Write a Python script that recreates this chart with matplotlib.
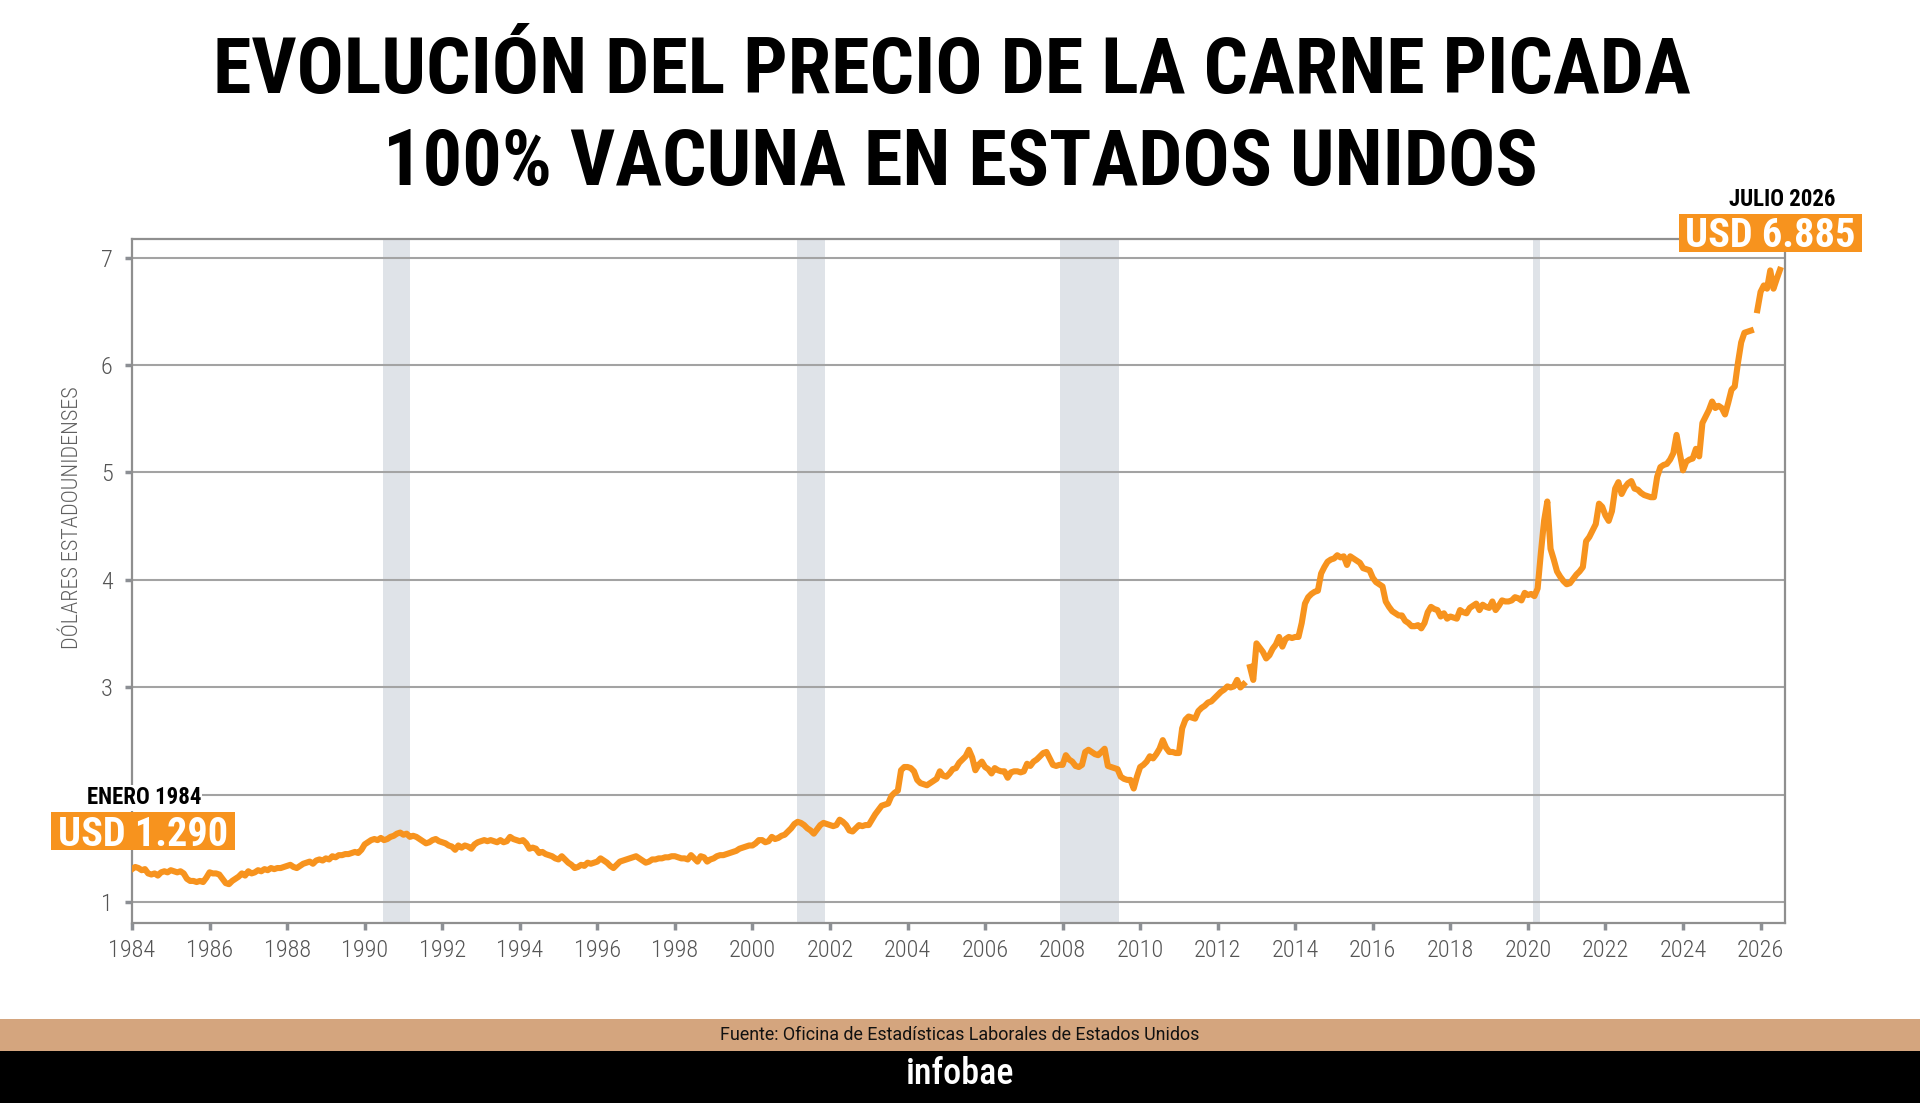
import matplotlib.pyplot as plt
from matplotlib.patches import Rectangle
import numpy as np

# Precio mensual de la libra de carne picada 100% vacuna (USD), ene 1984 - jul 2026
precios = [
    1.31, 1.33, 1.32, 1.30, 1.31, 1.27, 1.26, 1.27, 1.25, 1.28, 1.29, 1.28,  # 1984
    1.30, 1.29, 1.28, 1.29, 1.27, 1.22, 1.20, 1.20, 1.19, 1.20, 1.19, 1.23,  # 1985
    1.28, 1.27, 1.27, 1.26, 1.22, 1.18, 1.17, 1.20, 1.22, 1.24, 1.27, 1.25,  # 1986
    1.29, 1.27, 1.28, 1.30, 1.29, 1.31, 1.30, 1.32, 1.31, 1.32, 1.32, 1.33,  # 1987
    1.34, 1.35, 1.33, 1.32, 1.34, 1.36, 1.37, 1.38, 1.36, 1.39, 1.40, 1.39,  # 1988
    1.41, 1.40, 1.43, 1.42, 1.44, 1.44, 1.45, 1.45, 1.46, 1.47, 1.46, 1.49,  # 1989
    1.54, 1.56, 1.58, 1.59, 1.58, 1.60, 1.58, 1.59, 1.61, 1.62, 1.64, 1.65,  # 1990
    1.63, 1.64, 1.61, 1.62, 1.61, 1.59, 1.57, 1.55, 1.56, 1.58, 1.59, 1.57,  # 1991
    1.56, 1.55, 1.53, 1.52, 1.49, 1.53, 1.51, 1.53, 1.52, 1.50, 1.54, 1.56,  # 1992
    1.57, 1.58, 1.57, 1.58, 1.57, 1.56, 1.58, 1.56, 1.57, 1.61, 1.59, 1.58,  # 1993
    1.57, 1.58, 1.55, 1.50, 1.51, 1.50, 1.46, 1.47, 1.45, 1.44, 1.43, 1.41,  # 1994
    1.40, 1.43, 1.40, 1.37, 1.35, 1.32, 1.33, 1.35, 1.34, 1.37, 1.36, 1.37,  # 1995
    1.38, 1.41, 1.39, 1.37, 1.34, 1.32, 1.35, 1.38, 1.39, 1.40, 1.41, 1.42,  # 1996
    1.43, 1.41, 1.39, 1.37, 1.38, 1.40, 1.40, 1.41, 1.41, 1.42, 1.42, 1.43,  # 1997
    1.43, 1.42, 1.41, 1.41, 1.40, 1.44, 1.41, 1.38, 1.43, 1.42, 1.38, 1.40,  # 1998
    1.41, 1.43, 1.44, 1.44, 1.45, 1.46, 1.47, 1.48, 1.50, 1.51, 1.52, 1.53,  # 1999
    1.53, 1.55, 1.58, 1.58, 1.56, 1.57, 1.61, 1.59, 1.60, 1.62, 1.63, 1.66,  # 2000
    1.69, 1.73, 1.75, 1.74, 1.72, 1.69, 1.67, 1.64, 1.68, 1.72, 1.74, 1.73,  # 2001
    1.72, 1.71, 1.72, 1.77, 1.75, 1.72, 1.67, 1.66, 1.69, 1.72, 1.71, 1.72,  # 2002
    1.72, 1.77, 1.82, 1.86, 1.90, 1.91, 1.92, 1.99, 2.02, 2.04, 2.23, 2.26,  # 2003
    2.26, 2.25, 2.22, 2.14, 2.11, 2.10, 2.09, 2.11, 2.13, 2.15, 2.22, 2.18,  # 2004
    2.17, 2.20, 2.24, 2.25, 2.30, 2.33, 2.36, 2.42, 2.35, 2.23, 2.28, 2.31,  # 2005
    2.26, 2.24, 2.20, 2.25, 2.23, 2.22, 2.22, 2.16, 2.21, 2.22, 2.22, 2.21,  # 2006
    2.22, 2.29, 2.27, 2.31, 2.33, 2.36, 2.39, 2.40, 2.34, 2.28, 2.27, 2.28,  # 2007
    2.28, 2.37, 2.33, 2.31, 2.27, 2.26, 2.28, 2.40, 2.42, 2.40, 2.38, 2.37,  # 2008
    2.40, 2.43, 2.27, 2.26, 2.25, 2.24, 2.17, 2.15, 2.14, 2.14, 2.06, 2.17,  # 2009
    2.26, 2.28, 2.31, 2.36, 2.34, 2.38, 2.43, 2.51, 2.44, 2.40, 2.40, 2.39,  # 2010
    2.39, 2.62, 2.70, 2.73, 2.72, 2.71, 2.78, 2.81, 2.83, 2.86, 2.87, 2.90,  # 2011
    2.93, 2.96, 2.98, 3.01, 3.00, 3.01, 3.07, 3.00, 3.03, np.nan, 3.19, 3.07,  # 2012
    3.41, 3.37, 3.33, 3.27, 3.30, 3.36, 3.40, 3.47, 3.38, 3.45, 3.47, 3.46,  # 2013
    3.47, 3.47, 3.60, 3.78, 3.84, 3.87, 3.89, 3.90, 4.06, 4.12, 4.17, 4.19,  # 2014
    4.20, 4.23, 4.21, 4.22, 4.14, 4.22, 4.20, 4.18, 4.16, 4.11, 4.10, 4.09,  # 2015
    4.02, 3.98, 3.96, 3.94, 3.80, 3.75, 3.71, 3.69, 3.67, 3.67, 3.62, 3.60,  # 2016
    3.57, 3.57, 3.58, 3.55, 3.60, 3.70, 3.75, 3.73, 3.72, 3.66, 3.69, 3.64,  # 2017
    3.66, 3.65, 3.64, 3.72, 3.70, 3.69, 3.74, 3.76, 3.78, 3.72, 3.77, 3.75,  # 2018
    3.74, 3.80, 3.72, 3.76, 3.81, 3.80, 3.80, 3.81, 3.84, 3.83, 3.81, 3.88,  # 2019
    3.86, 3.87, 3.85, 3.92, 4.25, 4.55, 4.73, 4.29, 4.19, 4.08, 4.03, 3.99,  # 2020
    3.96, 3.97, 4.01, 4.05, 4.08, 4.12, 4.36, 4.40, 4.46, 4.52, 4.71, 4.68,  # 2021
    4.60, 4.55, 4.64, 4.85, 4.91, 4.80, 4.86, 4.90, 4.92, 4.85, 4.84, 4.81,  # 2022
    4.79, 4.78, 4.77, 4.77, 4.96, 5.05, 5.07, 5.08, 5.12, 5.18, 5.35, 5.18,  # 2023
    5.02, 5.10, 5.12, 5.13, 5.22, 5.15, 5.46, 5.52, 5.58, 5.66, 5.60, 5.62,  # 2024
    5.60, 5.54, 5.65, 5.77, 5.80, 6.02, 6.21, 6.30, 6.31, 6.32, np.nan, 6.51,  # 2025
    6.68, 6.74, 6.71, 6.88, 6.71, 6.80, 6.885,  # 2026
]

# recesiones (inicio, fin) en años decimales
recesiones = [(1990.47, 1991.16), (2001.15, 2001.87), (2007.93, 2009.45), (2020.12, 2020.31)]

anios_ticks = list(range(1984, 2027, 2))
valores_ticks = [1, 2, 3, 4, 5, 6, 7]
# el 2 queda tapado por la etiqueta de enero 1984
etiquetas_y = ['1', '', '3', '4', '5', '6', '7']

naranja = '#f7931e'
cond = ['Roboto Condensed', 'Roboto', 'DejaVu Sans']
W, H = 1920, 1103


def caja(x0, y0, x1, y1, color):
    # rectangulo en pixeles de la figura (origen arriba a la izquierda)
    fig.patches.append(Rectangle((x0 / W, 1 - y1 / H), (x1 - x0) / W, (y1 - y0) / H,
                                 transform=fig.transFigure, fc=color, ec='none', zorder=2.5))


fechas = 1984 + np.arange(len(precios)) / 12.0

fig = plt.figure(figsize=(19.2, 11.03), dpi=100)
fig.patch.set_facecolor('white')
ax = fig.add_axes([132 / W, 1 - 923.3 / H, (1785 - 132) / W, (923.3 - 238.8) / H])

for ini, fin in recesiones:
    ax.axvspan(ini, fin, color='#dfe3e8', lw=0, zorder=0)

ax.plot(fechas, precios, color=naranja, lw=4.4, zorder=3, solid_joinstyle='round')

ax.set_xlim(1984, 2026.63)
ax.set_ylim(0.806, 7.174)
ax.set_xticks(anios_ticks)
ax.set_yticks(valores_ticks, etiquetas_y)
ax.grid(axis='y', color='#a3a3a3', lw=1.5, zorder=1)
ax.set_axisbelow(True)
for s in ax.spines.values():
    s.set_color('#8f8f8f')
    s.set_linewidth(1.6)
ax.tick_params(axis='both', direction='out', color='#8c8f94', width=2.5, length=5,
               labelcolor='#555555', labelsize=17.5)
ax.tick_params(axis='x', pad=6)
ax.tick_params(axis='y', pad=9)
for lab in ax.get_xticklabels() + ax.get_yticklabels():
    lab.set_family(cond)
    lab.set_fontweight(300)

fig.text(73 / W, 1 - 518 / H, 'DÓLARES ESTADOUNIDENSES', rotation=90, ha='center', va='center',
         family=cond, fontweight=300, fontsize=16, color='#5f5f5f')

# Título
fig.text(952 / W, 1 - 72 / H, 'EVOLUCIÓN DEL PRECIO DE LA CARNE PICADA', ha='center', va='center',
         family=cond, fontweight='bold', fontsize=56.3, color='black')
fig.text(960 / W, 1 - 164 / H, '100% VACUNA EN ESTADOS UNIDOS', ha='center', va='center',
         family=cond, fontweight='bold', fontsize=56.3, color='black')

# Anotaciones de inicio y fin
fig.text(144 / W, 1 - 798 / H, 'ENERO 1984', ha='center', va='center', family=cond,
         fontweight='bold', fontsize=16.5, color='black', zorder=4,
         bbox=dict(boxstyle='square,pad=0.05', fc='white', ec='none'))
caja(51, 812, 235, 850, naranja)
fig.text(143 / W, 1 - 845.5 / H, 'USD 1.290', ha='center', va='baseline', family=cond,
         fontweight='bold', fontsize=29, color='white', zorder=4)
fig.text(1782 / W, 1 - 200 / H, 'JULIO 2026', ha='center', va='center', family=cond,
         fontweight='bold', fontsize=16.5, color='black', zorder=4)
caja(1679, 214, 1862, 252, naranja)
fig.text(1770.5 / W, 1 - 247.5 / H, 'USD 6.885', ha='center', va='baseline', family=cond,
         fontweight='bold', fontsize=29, color='white', zorder=4)

# Pie
caja(0, 1019, W, 1051, '#d4a57e')
caja(0, 1051, W, H, 'black')
fig.text(960 / W, 1 - 1035 / H, 'Fuente: Oficina de Estadísticas Laborales de Estados Unidos',
         ha='center', va='center', family=['Roboto', 'DejaVu Sans'], fontsize=12.9, color='#111111',
         zorder=4)
fig.text(960 / W, 1 - 1074 / H, 'infobae', ha='center', va='center',
         family=cond, fontweight=500, fontsize=26, color='white', zorder=4)

fig.savefig('out.png', dpi=100)
